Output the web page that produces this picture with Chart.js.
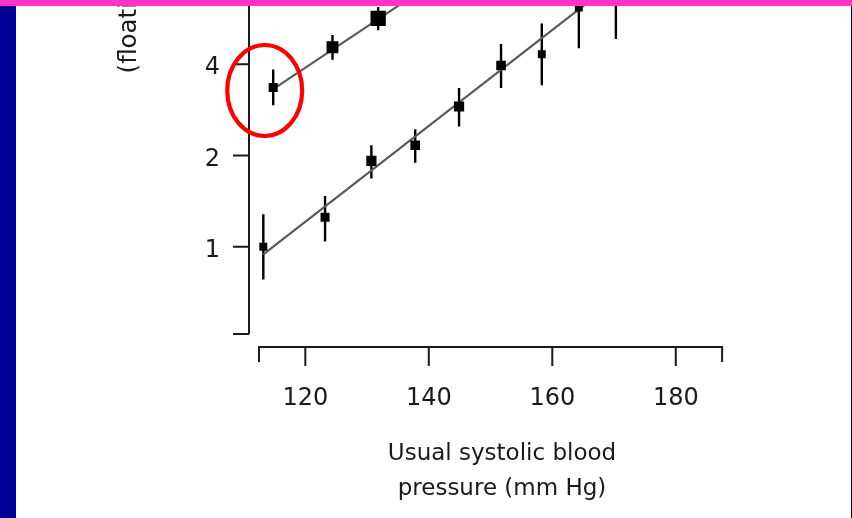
<!DOCTYPE html>
<html lang="en">
<head>
<meta charset="UTF-8">
<title>Stroke mortality by usual systolic blood pressure</title>
<script src="https://cdn.jsdelivr.net/npm/chart.js@4/dist/chart.umd.min.js"></script>
<style>
  html, body { margin: 0; padding: 0; }
  body { width: 852px; height: 518px; overflow: hidden; position: relative; background: #fff; }
  #chart { position: absolute; left: 0; top: -623px; }
  .bar-left { position: absolute; left: 0; top: 0; width: 16px; height: 518px; background: #000099; }
  .bar-right { position: absolute; right: 0; top: 0; width: 1px; height: 518px; background: #000066; }
  .bar-top { position: absolute; left: 0; top: 0; width: 852px; height: 6px; background: #ff33cc; }
</style>
</head>
<body>
<canvas id="chart" width="852" height="1141"></canvas>
<div class="bar-left"></div>
<div class="bar-right"></div>
<div class="bar-top"></div>
<script>
// usual SBP (mm Hg) vs stroke mortality (floating absolute risk, 95% CI)
const sbpLower = [113.2, 123.2, 130.7, 137.8, 144.9, 151.7, 158.3, 164.3, 170.3];
const riskLower = [1.00, 1.25, 1.92, 2.16, 2.90, 3.96, 4.31, 6.15, 7.5];
const ciLowLower = [0.78, 1.04, 1.68, 1.89, 2.49, 3.34, 3.41, 4.51, 4.84];
const ciHighLower = [1.28, 1.47, 2.16, 2.44, 3.34, 4.66, 5.45, 8.2, 11.6];
const weightLower = [0.77, 1.0, 1.27, 1.13, 1.27, 1.13, 0.77, 0.77, 0.77];

const sbpUpper = [114.8, 124.4, 131.8];
const riskUpper = [3.35, 4.55, 5.66];
const ciLowUpper = [2.93, 4.14, 5.18];
const ciHighUpper = [3.84, 4.99, 6.17];
const weightUpper = [1.0, 1.72, 2.85];

// regression lines, end points
const fitLowerX = [113.2, 170.3];
const fitLowerY = [0.944, 7.55];
const fitUpperX = [114.8, 160];
const fitUpperY = [3.31, 13.6];

const xTicks = [120, 140, 160, 180];
const xAxisEnds = [112.5, 187.5];
const yTicks = [1, 2, 4, 8, 16, 32, 64, 128, 256];

const pts = (xs, ys) => xs.map((x, i) => ({x, y: ys[i]}));
const side = w => 6.4 * Math.sqrt(w);

Chart.defaults.font.family = 'DejaVu Sans';
Chart.defaults.color = '#1a1a1a';

const axesAndBars = {
  id: 'axesAndBars',
  beforeDatasetsDraw(chart) {
    const {ctx, chartArea: a, scales: {x, y}} = chart;
    ctx.save();
    ctx.strokeStyle = '#1a1a1a';
    ctx.lineWidth = 2;
    ctx.beginPath();
    // y axis, ticks pointing left
    ctx.moveTo(a.left, a.top);
    ctx.lineTo(a.left, a.bottom);
    [y.min, ...yTicks].forEach(v => {
      const py = y.getPixelForValue(v);
      ctx.moveTo(a.left - 16, py);
      ctx.lineTo(a.left, py);
    });
    // x axis sits a little below the plot
    const ay = a.bottom + 13;
    const x0 = x.getPixelForValue(xAxisEnds[0]);
    const x1 = x.getPixelForValue(xAxisEnds[1]);
    ctx.moveTo(x0, ay + 15);
    ctx.lineTo(x0, ay);
    ctx.lineTo(x1, ay);
    ctx.lineTo(x1, ay + 15);
    xTicks.forEach(v => {
      const px = x.getPixelForValue(v);
      ctx.moveTo(px, ay);
      ctx.lineTo(px, ay + 19);
    });
    ctx.stroke();

    // 95% CI bars
    ctx.beginPath();
    ctx.rect(a.left, a.top, a.right - a.left, a.bottom - a.top);
    ctx.clip();
    ctx.strokeStyle = '#000';
    ctx.lineWidth = 2.4;
    ctx.beginPath();
    const bars = (xs, lo, hi) => xs.forEach((v, i) => {
      const px = x.getPixelForValue(v);
      ctx.moveTo(px, y.getPixelForValue(lo[i]));
      ctx.lineTo(px, y.getPixelForValue(hi[i]));
    });
    bars(sbpLower, ciLowLower, ciHighLower);
    bars(sbpUpper, ciLowUpper, ciHighUpper);
    ctx.stroke();
    ctx.restore();
  },
  afterDatasetsDraw(chart) {
    // red ring round the lowest-SBP point of the upper group
    const p = chart.getDatasetMeta(1).data[0];
    const ctx = chart.ctx;
    ctx.save();
    ctx.strokeStyle = '#ff0000';
    ctx.lineWidth = 4.2;
    ctx.beginPath();
    ctx.ellipse(p.x - 8.5, p.y + 3, 37.5, 45.5, 0, 0, Math.PI * 2);
    ctx.stroke();
    ctx.restore();
  }
};

new Chart(document.getElementById('chart'), {
  type: 'scatter',
  data: {
    datasets: [
      {
        data: pts(sbpLower, riskLower),
        pointStyle: 'rect',
        pointRadius: c => side(weightLower[c.dataIndex]),
        backgroundColor: '#000',
        borderWidth: 0,
        order: 0
      },
      {
        data: pts(sbpUpper, riskUpper),
        pointStyle: 'rect',
        pointRadius: c => side(weightUpper[c.dataIndex]),
        backgroundColor: '#000',
        borderWidth: 0,
        order: 0
      },
      {
        data: pts(fitLowerX, fitLowerY),
        showLine: true,
        borderColor: '#5a5a5a',
        borderWidth: 2.2,
        pointRadius: 0,
        order: 1
      },
      {
        data: pts(fitUpperX, fitUpperY),
        showLine: true,
        borderColor: '#5a5a5a',
        borderWidth: 2.2,
        pointRadius: 0,
        order: 1
      }
    ]
  },
  options: {
    responsive: false,
    animation: false,
    layout: { padding: { left: 80, right: 97, top: 0, bottom: 11.75 } },
    plugins: { legend: { display: false }, tooltip: { enabled: false } },
    scales: {
      x: {
        type: 'linear',
        min: 110.88,
        max: 192.83,
        afterBuildTicks: s => { s.ticks = xTicks.map(v => ({value: v})); },
        afterFit: s => { s.height = 172.25; s.paddingLeft = 0; s.paddingRight = 0; },
        grid: { display: false, drawTicks: false },
        border: { display: false },
        ticks: { padding: 50, font: { size: 24 }, callback: v => String(v) },
        title: {
          display: true,
          text: ['Usual systolic blood', 'pressure (mm Hg)'],
          font: { size: 23, lineHeight: 1.5 },
          padding: 0
        }
      },
      y: {
        type: 'logarithmic',
        min: 0.5152,
        max: 681,
        afterBuildTicks: s => { s.ticks = yTicks.map(v => ({value: v})); },
        afterFit: s => { s.width = 169; s.paddingTop = 0; s.paddingBottom = 0; },
        grid: { display: false, drawTicks: false },
        border: { display: false },
        ticks: { padding: 29, labelOffset: 4, font: { size: 24 }, callback: v => String(v) },
        title: {
          display: true,
          text: ['Stroke mortality', '(floating absolute risk and 95% CI)'],
          font: { size: 24.5 },
          padding: { top: 5.9, bottom: 0 }
        }
      }
    }
  },
  plugins: [axesAndBars]
});
</script>
</body>
</html>
